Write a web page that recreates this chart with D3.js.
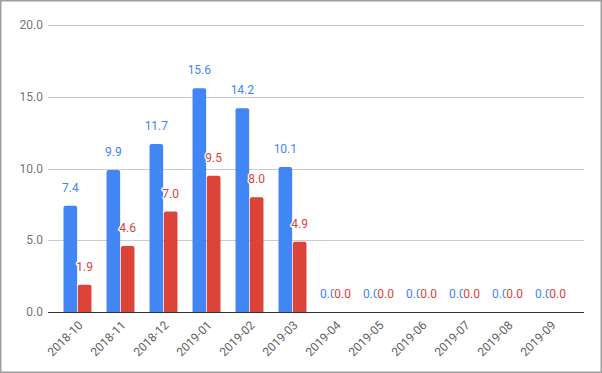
<!DOCTYPE html>
<html>
<head>
<meta charset="utf-8">
<script src="https://cdn.jsdelivr.net/npm/d3@7"></script>
<style>
  body { margin: 0; background: #fff; }
  svg { display: block; font-family: Roboto, Arial, sans-serif; }
  .tick-y { font-size: 12px; fill: #757575; }
  .tick-x { font-size: 12px; fill: #616161; }
  .ann { font-size: 12px; paint-order: stroke; stroke: #fff; stroke-width: 3px; stroke-linejoin: round; }
</style>
</head>
<body>
<svg width="602" height="373"></svg>
<script>
const months = ["2018-10","2018-11","2018-12","2019-01","2019-02","2019-03",
                "2019-04","2019-05","2019-06","2019-07","2019-08","2019-09"]
const blueValues = [7.4, 9.9, 11.7, 15.6, 14.2, 10.1, 0, 0, 0, 0, 0, 0]
const redValues = [1.9, 4.6, 7.0, 9.5, 8.0, 4.9, 0, 0, 0, 0, 0, 0]
const yTicks = [0, 5, 10, 15, 20]

const colors = {blue: "#4285f4", red: "#db4437"}

const svg = d3.select("svg")

// outer frame
svg.append("rect")
    .attr("x", 0.5).attr("y", 0.5)
    .attr("width", 601).attr("height", 372)
    .attr("fill", "none")
    .attr("stroke", "#9e9e9e")
    .attr("stroke-width", 2)

const left = 48, right = 584

const y = d3.scaleLinear()
    .domain([0, 20])
    .range([312, 25])

const x = d3.scaleBand()
    .domain(months)
    .range([56, 572])
    .paddingInner(0.35)
    .paddingOuter(0.175)

const sub = d3.scaleBand()
    .domain(["blue", "red"])
    .range([0, x.bandwidth()])
    .paddingInner(0.05)

// gridlines + y labels
const yAxis = svg.append("g")
yAxis.selectAll("line")
    .data(yTicks.filter(d => d > 0))
    .enter()
    .append("line")
    .attr("x1", left).attr("x2", right)
    .attr("y1", d => Math.round(y(d)) + 0.5)
    .attr("y2", d => Math.round(y(d)) + 0.5)
    .attr("stroke", "#cccccc")

yAxis.selectAll("text")
    .data(yTicks)
    .enter()
    .append("text")
    .attr("class", "tick-y")
    .attr("x", 43)
    .attr("y", d => y(d))
    .attr("dy", "0.35em")
    .attr("text-anchor", "end")
    .text(d => d3.format(".1f")(d))

// bars
const series = [
    {key: "blue", values: blueValues},
    {key: "red", values: redValues}
]

const barPath = (x0, w, top, bottom) => {
    const r = Math.min(2, (bottom - top))
    return "M" + x0 + "," + bottom +
        "V" + (top + r) +
        "Q" + x0 + "," + top + " " + (x0 + r) + "," + top +
        "H" + (x0 + w - r) +
        "Q" + (x0 + w) + "," + top + " " + (x0 + w) + "," + (top + r) +
        "V" + bottom + "Z"
}

series.forEach(s => {
    const g = svg.append("g")
    g.selectAll("path")
        .data(s.values)
        .enter()
        .filter(d => d > 0)
        .append("path")
        .attr("fill", colors[s.key])
        .attr("d", (d, i) => barPath(x(months[i]) + sub(s.key), sub.bandwidth(), y(d), y(0)))
})

// baseline
svg.append("line")
    .attr("x1", left).attr("x2", right)
    .attr("y1", 312.5).attr("y2", 312.5)
    .attr("stroke", "#333")

// annotations
series.forEach(s => {
    svg.append("g").selectAll("text")
        .data(s.values)
        .enter()
        .append("text")
        .attr("class", "ann")
        .attr("fill", colors[s.key])
        .attr("text-anchor", "middle")
        .attr("x", (d, i) => x(months[i]) + sub(s.key) + sub.bandwidth() / 2)
        .attr("y", d => y(d) - 14)
        .text(d => d3.format(".1f")(d))
})

// x labels
svg.append("g").selectAll("text")
    .data(months)
    .enter()
    .append("text")
    .attr("class", "tick-x")
    .attr("text-anchor", "end")
    .attr("transform", d => "translate(" + (x(d) + x.bandwidth() / 2 + 6) + ",326) rotate(-45)")
    .text(d => d)
</script>
</body>
</html>
